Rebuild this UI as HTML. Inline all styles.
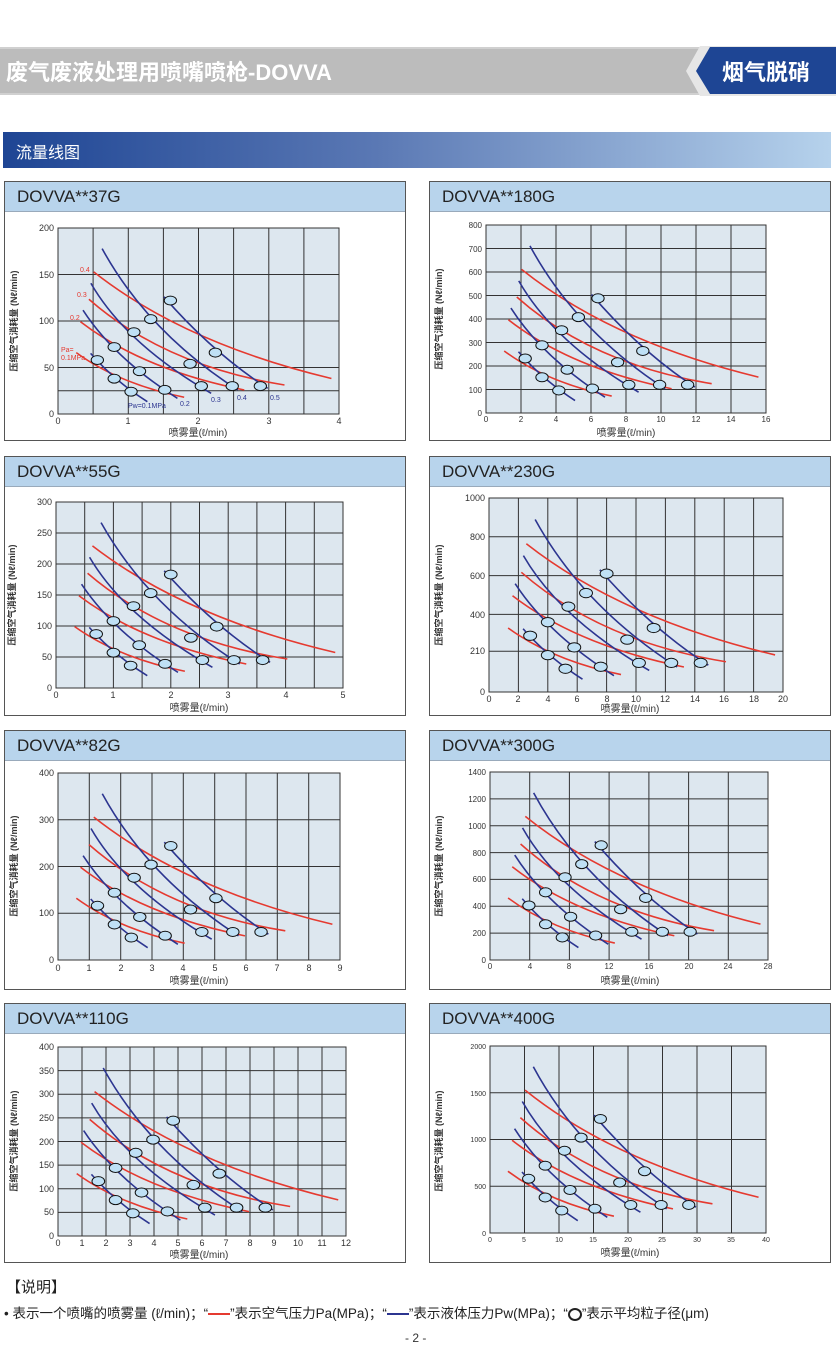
<!DOCTYPE html>
<html><head><meta charset="utf-8"><style>
body{margin:0;width:836px;height:1368px;position:relative;background:#fff;font-family:"Liberation Sans","Noto Sans CJK SC",sans-serif;overflow:hidden}
.a{position:absolute}
.panel{position:absolute;width:402px;height:260px;border:1px solid #555;background:#fff;box-sizing:border-box}
.panel .t{height:29px;background:#b8d4ec;border-bottom:1px solid #9ab;font-size:17px;color:#222;padding-left:12px;line-height:29px}
</style></head><body>
<div class="a" style="left:0;top:47px;width:700px;height:48px;background:#bcbcbc;border-top:2px solid #d0d0d0;border-bottom:2px solid #d0d0d0;box-sizing:border-box"></div>
<div class="a" style="left:6px;top:55px;font-size:22px;font-weight:bold;color:#fff">废气废液处理用喷嘴喷枪-DOVVA</div>
<svg class="a" style="left:670px;top:40px" width="166" height="62"><polygon points="30,6 166,6 166,56 30,56 16,31" fill="#e6e6e6"/><polygon points="40,7 166,7 166,54 40,54 26,31" fill="#1e4594"/></svg>
<div class="a" style="left:722px;top:55px;font-size:22px;font-weight:bold;color:#fff">烟气脱硝</div>
<div class="a" style="left:3px;top:132px;width:828px;height:36px;background:linear-gradient(90deg,#1e4594,#5a78b4 45%,#b6d2ec)"></div>
<div class="a" style="left:16px;top:139px;font-size:16px;color:#fff">流量线图</div>

<div class="panel" style="left:4px;top:181px"><div class="t">DOVVA**37G</div></div>
<div class="panel" style="left:429px;top:181px"><div class="t">DOVVA**180G</div></div>
<div class="panel" style="left:4px;top:456px"><div class="t">DOVVA**55G</div></div>
<div class="panel" style="left:429px;top:456px"><div class="t">DOVVA**230G</div></div>
<div class="panel" style="left:4px;top:730px"><div class="t">DOVVA**82G</div></div>
<div class="panel" style="left:429px;top:730px"><div class="t">DOVVA**300G</div></div>
<div class="panel" style="left:4px;top:1003px"><div class="t">DOVVA**110G</div></div>
<div class="panel" style="left:429px;top:1003px"><div class="t">DOVVA**400G</div></div>

<svg class="a" style="left:0;top:0" width="836" height="1368" font-family="Liberation Sans, Noto Sans CJK SC, sans-serif">
<defs>
<symbol id="cv" viewBox="0 0 1 1" preserveAspectRatio="none" overflow="visible">
<g fill="none" stroke-width="1.6">
<path d="M0.127,0.236 Q0.45,0.62 0.973,0.809" stroke="#e53a30" vector-effect="non-scaling-stroke"/>
<path d="M0.11,0.383 Q0.38,0.74 0.806,0.844" stroke="#e53a30" vector-effect="non-scaling-stroke"/>
<path d="M0.08,0.504 Q0.3,0.76 0.663,0.871" stroke="#e53a30" vector-effect="non-scaling-stroke"/>
<path d="M0.065,0.67 Q0.22,0.84 0.449,0.91" stroke="#e53a30" vector-effect="non-scaling-stroke"/>
<path d="M0.377,0.37 Q0.55,0.67 0.746,0.862" stroke="#2c3590" vector-effect="non-scaling-stroke"/>
<path d="M0.157,0.111 Q0.32,0.56 0.64,0.871" stroke="#2c3590" vector-effect="non-scaling-stroke"/>
<path d="M0.117,0.297 Q0.24,0.62 0.545,0.889" stroke="#2c3590" vector-effect="non-scaling-stroke"/>
<path d="M0.089,0.442 Q0.2,0.7 0.425,0.916" stroke="#2c3590" vector-effect="non-scaling-stroke"/>
<path d="M0.116,0.674 Q0.2,0.82 0.318,0.934" stroke="#2c3590" vector-effect="non-scaling-stroke"/>
</g>
<g fill="#bfe0f5" stroke="#111" stroke-width="1">
<ellipse cx="0.4" cy="0.39" rx="0.022" ry="0.024" vector-effect="non-scaling-stroke"/><ellipse cx="0.33" cy="0.49" rx="0.022" ry="0.024" vector-effect="non-scaling-stroke"/><ellipse cx="0.27" cy="0.56" rx="0.022" ry="0.024" vector-effect="non-scaling-stroke"/><ellipse cx="0.2" cy="0.64" rx="0.022" ry="0.024" vector-effect="non-scaling-stroke"/><ellipse cx="0.14" cy="0.71" rx="0.022" ry="0.024" vector-effect="non-scaling-stroke"/>
<ellipse cx="0.56" cy="0.67" rx="0.022" ry="0.024" vector-effect="non-scaling-stroke"/><ellipse cx="0.47" cy="0.73" rx="0.022" ry="0.024" vector-effect="non-scaling-stroke"/><ellipse cx="0.29" cy="0.77" rx="0.022" ry="0.024" vector-effect="non-scaling-stroke"/><ellipse cx="0.2" cy="0.81" rx="0.022" ry="0.024" vector-effect="non-scaling-stroke"/>
<ellipse cx="0.72" cy="0.85" rx="0.022" ry="0.024" vector-effect="non-scaling-stroke"/><ellipse cx="0.62" cy="0.85" rx="0.022" ry="0.024" vector-effect="non-scaling-stroke"/><ellipse cx="0.51" cy="0.85" rx="0.022" ry="0.024" vector-effect="non-scaling-stroke"/><ellipse cx="0.38" cy="0.87" rx="0.022" ry="0.024" vector-effect="non-scaling-stroke"/><ellipse cx="0.26" cy="0.88" rx="0.022" ry="0.024" vector-effect="non-scaling-stroke"/>
</g>
</symbol>
</defs>
<g font-size="9" fill="#333">
<!-- P1 -->
<rect x="58" y="228" width="281" height="186" fill="#dde7ef" stroke="#333"/>
<path d="M93.1 228V414M128.3 228V414M163.4 228V414M198.5 228V414M233.6 228V414M268.8 228V414M303.9 228V414M58 274.5H339M58 321H339M58 367.5H339M58 390.8H339" stroke="#333"/>
<use href="#cv" x="58" y="228" width="281" height="186"/>
<g font-size="7" fill="#e53a30"><text x="80" y="272">0.4</text><text x="77" y="297">0.3</text><text x="70" y="320">0.2</text><text x="61" y="352">Pa=</text><text x="61" y="360">0.1MPa</text></g>
<g font-size="7" fill="#2c3590"><text x="128" y="408">Pw=0.1MPa</text><text x="180" y="406">0.2</text><text x="211" y="402">0.3</text><text x="237" y="400">0.4</text><text x="270" y="400">0.5</text></g>
<text x="54" y="417" text-anchor="end">0</text><text x="54" y="371" text-anchor="end">50</text><text x="54" y="324" text-anchor="end">100</text><text x="54" y="278" text-anchor="end">150</text><text x="54" y="231" text-anchor="end">200</text>
<text x="58" y="424" text-anchor="middle">0</text><text x="128" y="424" text-anchor="middle">1</text><text x="198" y="424" text-anchor="middle">2</text><text x="269" y="424" text-anchor="middle">3</text><text x="339" y="424" text-anchor="middle">4</text>
<text x="198" y="436" text-anchor="middle" font-size="10">喷雾量(ℓ/min)</text>
<text transform="translate(17,321) rotate(-90)" text-anchor="middle" font-size="9" font-weight="bold">压缩空气消耗量 (Nℓ/min)</text>
<!-- P2 -->
<rect x="486" y="225" width="280" height="188" fill="#dde7ef" stroke="#333"/>
<path d="M521 225V413M556 225V413M591 225V413M626 225V413M661 225V413M696 225V413M731 225V413M486 248.5H766M486 272H766M486 295.5H766M486 319H766M486 342.5H766M486 366H766M486 389.5H766" stroke="#333"/>
<use href="#cv" x="486" y="225" width="280" height="188"/>
<g font-size="8" text-anchor="end"><text x="482" y="416">0</text><text x="482" y="393">100</text><text x="482" y="369">200</text><text x="482" y="346">300</text><text x="482" y="322">400</text><text x="482" y="299">500</text><text x="482" y="275">600</text><text x="482" y="252">700</text><text x="482" y="228">800</text></g>
<g font-size="8" text-anchor="middle"><text x="486" y="422">0</text><text x="521" y="422">2</text><text x="556" y="422">4</text><text x="591" y="422">6</text><text x="626" y="422">8</text><text x="661" y="422">10</text><text x="696" y="422">12</text><text x="731" y="422">14</text><text x="766" y="422">16</text></g>
<text x="626" y="436" text-anchor="middle" font-size="10">喷雾量(ℓ/min)</text>
<text transform="translate(442,319) rotate(-90)" text-anchor="middle" font-weight="bold">压缩空气消耗量 (Nℓ/min)</text>
<!-- P3 -->
<rect x="56" y="502" width="287" height="186" fill="#dde7ef" stroke="#333"/>
<path d="M84.7 502V688M113.4 502V688M142.1 502V688M170.8 502V688M199.5 502V688M228.2 502V688M256.9 502V688M285.6 502V688M314.3 502V688M56 533H343M56 564H343M56 595H343M56 626H343M56 657H343" stroke="#333"/>
<use href="#cv" x="56" y="502" width="287" height="186"/>
<g text-anchor="end"><text x="52" y="691">0</text><text x="52" y="660">50</text><text x="52" y="629">100</text><text x="52" y="598">150</text><text x="52" y="567">200</text><text x="52" y="536">250</text><text x="52" y="505">300</text></g>
<g text-anchor="middle"><text x="56" y="698">0</text><text x="113" y="698">1</text><text x="171" y="698">2</text><text x="228" y="698">3</text><text x="286" y="698">4</text><text x="343" y="698">5</text></g>
<text x="199" y="711" text-anchor="middle" font-size="10">喷雾量(ℓ/min)</text>
<text transform="translate(15,595) rotate(-90)" text-anchor="middle" font-weight="bold">压缩空气消耗量 (Nℓ/min)</text>
<!-- P4 -->
<rect x="489" y="498" width="294" height="194" fill="#dde7ef" stroke="#333"/>
<path d="M518.4 498V692M547.8 498V692M577.2 498V692M606.6 498V692M636 498V692M665.4 498V692M694.8 498V692M724.2 498V692M753.6 498V692M489 651.3H783M489 614.4H783M489 575.6H783M489 536.8H783" stroke="#333"/>
<use href="#cv" x="489" y="498" width="294" height="194"/>
<g text-anchor="end"><text x="485" y="695">0</text><text x="485" y="654">210</text><text x="485" y="618">400</text><text x="485" y="579">600</text><text x="485" y="540">800</text><text x="485" y="501">1000</text></g>
<g text-anchor="middle"><text x="489" y="702">0</text><text x="518" y="702">2</text><text x="548" y="702">4</text><text x="577" y="702">6</text><text x="607" y="702">8</text><text x="636" y="702">10</text><text x="665" y="702">12</text><text x="695" y="702">14</text><text x="724" y="702">16</text><text x="754" y="702">18</text><text x="783" y="702">20</text></g>
<text x="630" y="712" text-anchor="middle" font-size="10">喷雾量(ℓ/min)</text>
<text transform="translate(442,595) rotate(-90)" text-anchor="middle" font-weight="bold">压缩空气消耗量 (Nℓ/min)</text>
<!-- P5 -->
<rect x="58" y="773" width="282" height="187" fill="#dde7ef" stroke="#333"/>
<path d="M89.3 773V960M120.7 773V960M152 773V960M183.3 773V960M214.7 773V960M246 773V960M277.3 773V960M308.7 773V960M58 819.8H340M58 866.5H340M58 913.3H340" stroke="#333"/>
<use href="#cv" x="58" y="773" width="282" height="187"/>
<g text-anchor="end"><text x="54" y="963">0</text><text x="54" y="916">100</text><text x="54" y="870">200</text><text x="54" y="823">300</text><text x="54" y="776">400</text></g>
<g text-anchor="middle"><text x="58" y="971">0</text><text x="89" y="971">1</text><text x="121" y="971">2</text><text x="152" y="971">3</text><text x="183" y="971">4</text><text x="215" y="971">5</text><text x="246" y="971">6</text><text x="277" y="971">7</text><text x="309" y="971">8</text><text x="340" y="971">9</text></g>
<text x="199" y="984" text-anchor="middle" font-size="10">喷雾量(ℓ/min)</text>
<text transform="translate(17,866) rotate(-90)" text-anchor="middle" font-weight="bold">压缩空气消耗量 (Nℓ/min)</text>
<!-- P6 -->
<rect x="490" y="772" width="278" height="188" fill="#dde7ef" stroke="#333"/>
<path d="M529.7 772V960M569.4 772V960M609.1 772V960M648.9 772V960M688.6 772V960M728.3 772V960M490 798.9H768M490 825.7H768M490 852.6H768M490 879.4H768M490 906.3H768M490 933.1H768" stroke="#333"/>
<use href="#cv" x="490" y="772" width="278" height="188"/>
<g text-anchor="end" font-size="8"><text x="486" y="963">0</text><text x="486" y="936">200</text><text x="486" y="909">400</text><text x="486" y="882">600</text><text x="486" y="856">800</text><text x="486" y="829">1000</text><text x="486" y="802">1200</text><text x="486" y="775">1400</text></g>
<g text-anchor="middle" font-size="8"><text x="490" y="969">0</text><text x="530" y="969">4</text><text x="569" y="969">8</text><text x="609" y="969">12</text><text x="649" y="969">16</text><text x="689" y="969">20</text><text x="728" y="969">24</text><text x="768" y="969">28</text></g>
<text x="630" y="984" text-anchor="middle" font-size="10">喷雾量(ℓ/min)</text>
<text transform="translate(442,866) rotate(-90)" text-anchor="middle" font-weight="bold">压缩空气消耗量 (Nℓ/min)</text>
<!-- P7 -->
<rect x="58" y="1047" width="288" height="189" fill="#dde7ef" stroke="#333"/>
<path d="M82 1047V1236M106 1047V1236M130 1047V1236M154 1047V1236M178 1047V1236M202 1047V1236M226 1047V1236M250 1047V1236M274 1047V1236M298 1047V1236M322 1047V1236M58 1070.6H346M58 1094.3H346M58 1117.9H346M58 1141.5H346M58 1165.1H346M58 1188.8H346M58 1212.4H346" stroke="#333"/>
<use href="#cv" x="58" y="1047" width="288" height="189"/>
<g text-anchor="end"><text x="54" y="1239">0</text><text x="54" y="1215">50</text><text x="54" y="1192">100</text><text x="54" y="1168">150</text><text x="54" y="1145">200</text><text x="54" y="1121">250</text><text x="54" y="1097">300</text><text x="54" y="1074">350</text><text x="54" y="1050">400</text></g>
<g text-anchor="middle"><text x="58" y="1246">0</text><text x="82" y="1246">1</text><text x="106" y="1246">2</text><text x="130" y="1246">3</text><text x="154" y="1246">4</text><text x="178" y="1246">5</text><text x="202" y="1246">6</text><text x="226" y="1246">7</text><text x="250" y="1246">8</text><text x="274" y="1246">9</text><text x="298" y="1246">10</text><text x="322" y="1246">11</text><text x="346" y="1246">12</text></g>
<text x="199" y="1258" text-anchor="middle" font-size="10">喷雾量(ℓ/min)</text>
<text transform="translate(17,1141) rotate(-90)" text-anchor="middle" font-weight="bold">压缩空气消耗量 (Nℓ/min)</text>
<!-- P8 -->
<rect x="490" y="1046" width="276" height="187" fill="#dde7ef" stroke="#333"/>
<path d="M524.5 1046V1233M559 1046V1233M593.5 1046V1233M628 1046V1233M662.5 1046V1233M697 1046V1233M731.5 1046V1233M490 1092.8H766M490 1139.5H766M490 1186.3H766" stroke="#333"/>
<use href="#cv" x="490" y="1046" width="276" height="187"/>
<g text-anchor="end" font-size="7"><text x="486" y="1236">0</text><text x="486" y="1189">500</text><text x="486" y="1142">1000</text><text x="486" y="1096">1500</text><text x="486" y="1049">2000</text></g>
<g text-anchor="middle" font-size="7"><text x="490" y="1242">0</text><text x="524" y="1242">5</text><text x="559" y="1242">10</text><text x="593" y="1242">15</text><text x="628" y="1242">20</text><text x="662" y="1242">25</text><text x="697" y="1242">30</text><text x="731" y="1242">35</text><text x="766" y="1242">40</text></g>
<text x="630" y="1256" text-anchor="middle" font-size="10">喷雾量(ℓ/min)</text>
<text transform="translate(442,1141) rotate(-90)" text-anchor="middle" font-weight="bold">压缩空气消耗量 (Nℓ/min)</text>
</g>
</svg>

<div class="a" style="left:6px;top:1276px;font-size:15px;color:#222">【说明】</div>
<div class="a" style="left:4px;top:1302px;font-size:13.5px;color:#222;white-space:nowrap">• 表示一个喷嘴的喷雾量 (ℓ/min)；“<span style="display:inline-block;width:22px;height:2px;background:#e53a30;vertical-align:middle"></span>”表示空气压力Pa(MPa)；“<span style="display:inline-block;width:22px;height:2px;background:#2c3590;vertical-align:middle"></span>”表示液体压力Pw(MPa)；“<span style="display:inline-block;width:10px;height:9px;border:2px solid #222;border-radius:50%;vertical-align:middle"></span>”表示平均粒子径(μm)</div>
<div class="a" style="left:405px;top:1331px;font-size:12px;color:#333">- 2 -</div>
</body></html>
